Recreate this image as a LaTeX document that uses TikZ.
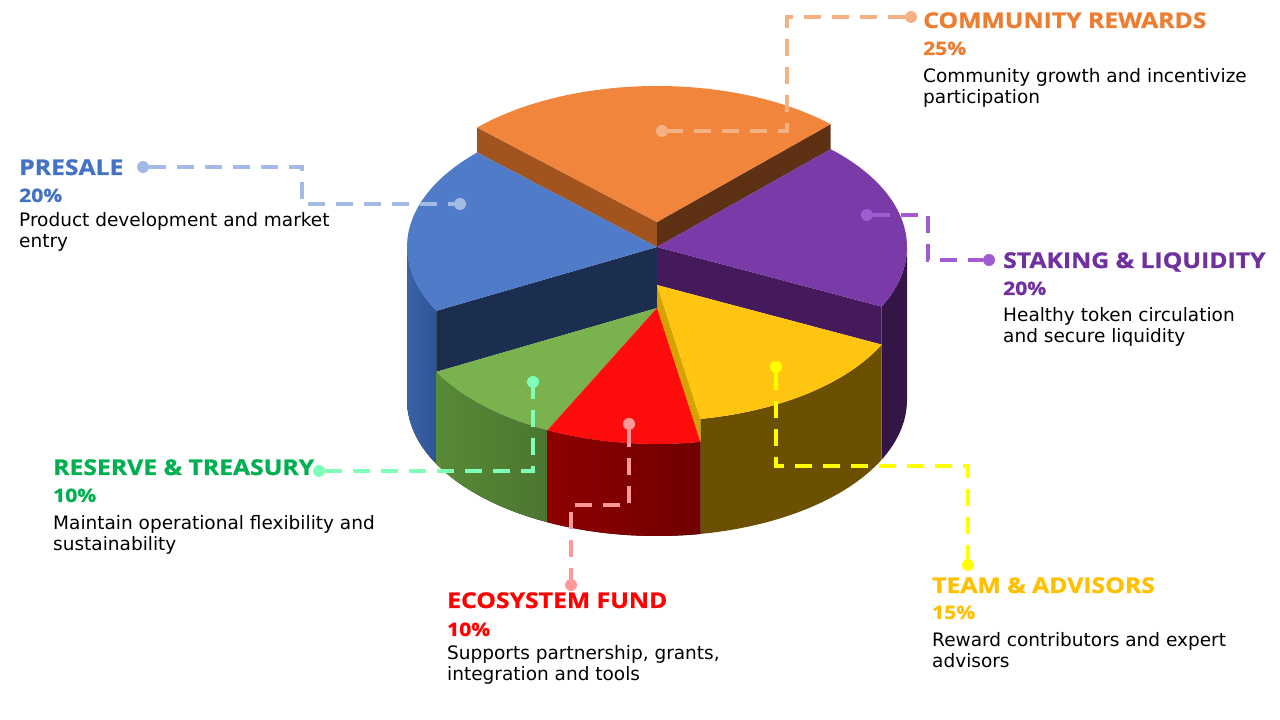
\documentclass[tikz,border=0pt]{standalone}
\usepackage{fontspec}
\setmainfont{DejaVu Sans}
\newfontfamily\headfont{Open Sans}[FakeStretch=1.14,FakeBold=1]
\usepackage{tikz}
\usetikzlibrary{calc}
\definecolor{cmline}{HTML}{F4B183}
\definecolor{cmhead}{HTML}{ED7D31}
\definecolor{cmtop}{HTML}{F2853C}
\definecolor{cmface1}{HTML}{A2541F}
\definecolor{cmface2}{HTML}{5E3014}
\definecolor{psline}{HTML}{A3BAE5}
\definecolor{pshead}{HTML}{4472C4}
\definecolor{pstop}{HTML}{4F7BC8}
\definecolor{psface}{HTML}{1C2E4F}
\definecolor{psside1}{HTML}{3A63A8}
\definecolor{psside2}{HTML}{2D5494}
\definecolor{skline}{HTML}{A05CD0}
\definecolor{skhead}{HTML}{7030A0}
\definecolor{sktop}{HTML}{7A3AA8}
\definecolor{skface}{HTML}{441A5C}
\definecolor{skside}{HTML}{331546}
\definecolor{rsline}{HTML}{80FFB8}
\definecolor{rshead}{HTML}{00B050}
\definecolor{rstop}{HTML}{7AB24E}
\definecolor{rsside1}{HTML}{578A36}
\definecolor{rsside2}{HTML}{41622A}
\definecolor{ecline}{HTML}{FF9999}
\definecolor{echead}{HTML}{FF0000}
\definecolor{ectop}{HTML}{FF0D0D}
\definecolor{ecside1}{HTML}{8E0000}
\definecolor{ecside2}{HTML}{700000}
\definecolor{tmline}{HTML}{FFFF00}
\definecolor{tmhead}{HTML}{FFC000}
\definecolor{tmtop}{HTML}{FFC510}
\definecolor{tmface}{HTML}{D6A200}
\definecolor{tmside}{HTML}{6A5000}
\tikzset{%
  ldot/.style={draw=none,shape=circle,fill=#1,inner sep=0,minimum size=12pt},
  ledge/.style={draw=#1,line width=4.2pt,dash pattern=on 17pt off 11pt},
  ltitle/.style={anchor=base west,inner sep=0,text=#1,font=\headfont\fontsize{21.7}{26}\selectfont\bfseries},
  lpct/.style={anchor=base west,inner sep=0,text=#1,font=\headfont\fontsize{18.5}{21}\selectfont\bfseries},
  ltext/.style={anchor=base west,inner sep=0,align=left,font=\fontsize{18.5}{21.5}\selectfont}
}

\begin{document}
\begin{tikzpicture}[x=1pt,y=1pt]
    \useasboundingbox (0,0) rectangle (1280,720);
    % community rewards
    \fill[cmface1] (657,498) -- ++(136:250pt and 136pt) -- ++(0,-25) -- (657,473) -- cycle;
    \fill[cmface2] (657,498) -- ++(46:250pt and 136pt) -- ++(0,-25) -- (657,473) -- cycle;
    \fill[cmtop] (657,498) -- ++(46:250pt and 136pt) arc[start angle=46,end angle=136,x radius=250pt,y radius=136pt] -- cycle;
    % presale
    \fill[left color=psside1,right color=psside2] (407,473) arc[start angle=180,end angle=208,x radius=250pt,y radius=136pt] -- ++(0,-153) arc[start angle=208,end angle=180,x radius=250pt,y radius=136pt] -- cycle;
    \fill[psface] (657,473) -- ++(208:250pt and 136pt) -- ++(0,-61) -- (657,412) -- cycle;
    \fill[pstop] (657,473) -- ++(136:250pt and 136pt) arc[start angle=136,end angle=208,x radius=250pt,y radius=136pt] -- cycle;
    % staking and liquidity
    \fill[skside] (657,473) ++(-26:250pt and 136pt) arc[start angle=-26,end angle=0,x radius=250pt,y radius=136pt] -- ++(0,-153) arc[start angle=0,end angle=-26,x radius=250pt,y radius=136pt] -- cycle;
    \fill[skface] (657,473) -- ++(-26:250pt and 136pt) -- ++(0,-38) -- (657,435) -- cycle;
    \fill[sktop] (657,473) -- ++(-26:250pt and 136pt) arc[start angle=-26,end angle=46,x radius=250pt,y radius=136pt] -- cycle;
    % team and advisors
    \fill[tmside] (657,435) ++(-80:250pt and 136pt) arc[start angle=-80,end angle=-26,x radius=250pt,y radius=136pt] -- ++(0,-115) arc[start angle=-26,end angle=-80,x radius=250pt,y radius=136pt] -- cycle;
    \fill[tmface] (657,435) -- ++(-80:250pt and 136pt) -- ++(0,-23) -- (657,412) -- cycle;
    \fill[tmtop] (657,435) -- ++(-80:250pt and 136pt) arc[start angle=-80,end angle=-26,x radius=250pt,y radius=136pt] -- cycle;
    % reserve and treasury
    \fill[left color=rsside1,right color=rsside2] (657,412) ++(-152:250pt and 136pt) arc[start angle=-152,end angle=-116,x radius=250pt,y radius=136pt] -- ++(0,-92) arc[start angle=-116,end angle=-152,x radius=250pt,y radius=136pt] -- cycle;
    \fill[rstop] (657,412) -- ++(-152:250pt and 136pt) arc[start angle=-152,end angle=-116,x radius=250pt,y radius=136pt] -- cycle;
    % ecosystem fund
    \fill[left color=ecside1,right color=ecside2] (657,412) ++(-116:250pt and 136pt) arc[start angle=-116,end angle=-80,x radius=250pt,y radius=136pt] -- ++(0,-92) arc[start angle=-80,end angle=-116,x radius=250pt,y radius=136pt] -- cycle;
    \fill[ectop] (657,412) -- ++(-116:250pt and 136pt) arc[start angle=-116,end angle=-80,x radius=250pt,y radius=136pt] -- cycle;

    % labels (body text nodes sit on their last line)
    \node[ltitle=cmhead] (cm-title) at (923,692) {COMMUNITY REWARDS};
    \node[lpct=cmhead] (cm-pct) at (923,665) {25\%};
    \node[ltext] (cm-text) at (923,616) {Community growth and incentivize\\participation};
    \node[ltitle=pshead] (ps-title) at (19,545) {PRESALE};
    \node[lpct=pshead] (ps-pct) at (19,518) {20\%};
    \node[ltext] (ps-text) at (19,472) {Product development and market\\entry};
    \node[ltitle=skhead] (sk-title) at (1003,452) {STAKING \& LIQUIDITY};
    \node[lpct=skhead] (sk-pct) at (1003,425) {20\%};
    \node[ltext] (sk-text) at (1003,377) {Healthy token circulation\\and secure liquidity};
    \node[ltitle=rshead] (rs-title) at (53,245) {RESERVE \& TREASURY};
    \node[lpct=rshead] (rs-pct) at (53,218) {10\%};
    \node[ltext] (rs-text) at (53,169) {Maintain operational flexibility and\\sustainability};
    \node[ltitle=echead] (ec-title) at (447,112) {ECOSYSTEM FUND};
    \node[lpct=echead] (ec-pct) at (447,84) {10\%};
    \node[ltext] (ec-text) at (447,39) {Supports partnership, grants,\\integration and tools};
    \node[ltitle=tmhead] (tm-title) at (932,127) {TEAM \& ADVISORS};
    \node[lpct=tmhead] (tm-pct) at (932,101) {15\%};
    \node[ltext] (tm-text) at (932,52) {Reward contributors and expert\\advisors};

    % connectors
    \node[ldot=cmline] (cm-a) at (911,703) {};
    \node[ldot=cmline] (cm-b) at (662,589) {};
    \coordinate (cm-k) at (787,646);
    \draw[ledge=cmline] (cm-a) -| (cm-k) |- (cm-b);
    \node[ldot=psline] (ps-a) at (143,553) {};
    \node[ldot=psline] (ps-b) at (460,516) {};
    \coordinate (ps-k) at (302,534);
    \draw[ledge=psline] (ps-a) -| (ps-k) |- (ps-b);
    \node[ldot=skline] (sk-b) at (867,505) {};
    \node[ldot=skline] (sk-a) at (989,460) {};
    \coordinate (sk-k) at (928,482);
    \draw[ledge=skline] (sk-b) -| (sk-k) |- (sk-a);
    \node[ldot=rsline] (rs-a) at (319,249) {};
    \node[ldot=rsline] (rs-b) at (533,338) {};
    \draw[ledge=rsline] (rs-a) -| (rs-b);
    \node[ldot=ecline] (ec-b) at (629,296) {};
    \node[ldot=ecline] (ec-a) at (571,135) {};
    \coordinate (ec-k) at (600,215);
    \draw[ledge=ecline] (ec-b) |- (ec-k) -| (ec-a);
    \node[ldot=tmline] (tm-b) at (776,353) {};
    \node[ldot=tmline] (tm-a) at (968,155) {};
    \coordinate (tm-k) at (870,254);
    \draw[ledge=tmline] (tm-b) |- (tm-k) -| (tm-a);
  \end{tikzpicture}
\end{document}
